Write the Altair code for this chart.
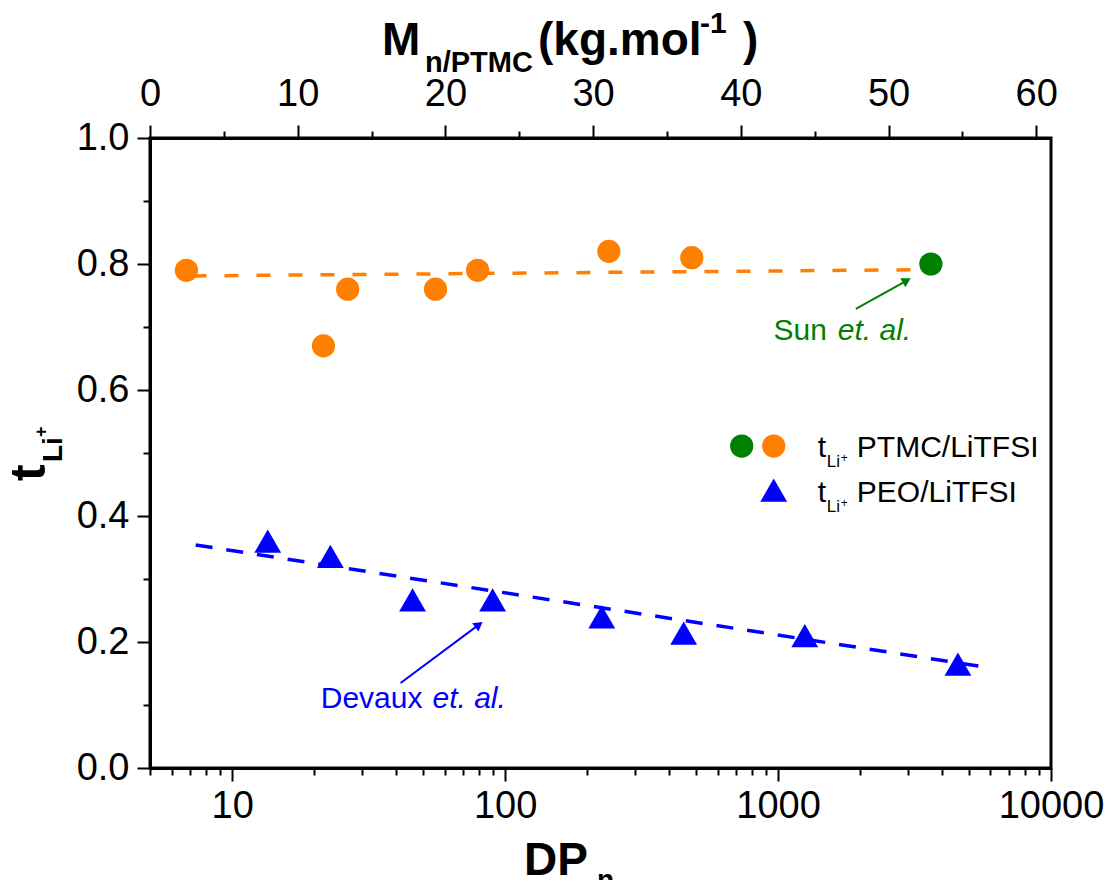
import altair as alt
import pandas as pd

FONT = "Liberation Sans"
ORANGE = "#FF8000"
GREEN = "#008000"
BLUE = "#0000FF"

# ---------------- data ----------------
ptmc_dp = [6.8, 21.6, 26.5, 55.6, 79.3, 240, 483]
ptmc_t = [0.79, 0.67, 0.76, 0.76, 0.79, 0.82, 0.81]
sun_dp = [3630]
sun_t = [0.80]
peo_dp = [13.5, 22.9, 45.8, 90, 226, 451, 1253, 4560]
peo_t = [0.36, 0.336, 0.267, 0.267, 0.24, 0.214, 0.21, 0.165]
fit_ptmc_dp = [6.8, 3450]
fit_ptmc_t = [0.781, 0.791]
fit_peo_dp = [7.35, 5970]
fit_peo_t = [0.354, 0.159]

dp_ticks = [5, 6, 7, 8, 9] + [m * 10 ** e for e in (1, 2, 3) for m in range(1, 10)] + [10000]
dp_labels = [10, 100, 1000, 10000]
t_ticks = [round(i * 0.1, 1) for i in range(11)]
m_ticks = list(range(0, 61, 5))

# annotation anchors (data coordinates)
sun_note = {"dp": 1509, "t": 0.679}
sun_arrow = {"dp": 1928, "t": 0.7286, "dp2": 2962, "t2": 0.7737}
dev_note = {"dp": 49.8, "t": 0.0952}
dev_arrow = {"dp": 41.4, "t": 0.135, "dp2": 80.2, "t2": 0.2276}
leg_green = {"dp": 736, "t": 0.511}
leg_orange = {"dp": 964, "t": 0.511}
leg_tri = {"dp": 964, "t": 0.441}
leg_text1 = {"dp": 1399, "t": 0.4937}
leg_text2 = {"dp": 1399, "t": 0.4222}

# ---------------- scales / axes ----------------
major_test = " || ".join(f"datum.value == {v}" for v in dp_labels)
x_scale = alt.Scale(type="log", domain=[5, 10000], nice=False)
x_axis = alt.Axis(
    orient="bottom", values=dp_ticks, title=None, grid=False,
    labelExpr=f"({major_test}) ? format(datum.value, 'd') : ''",
    tickSize={"condition": {"test": major_test, "value": 13}, "value": 7},
    labelPadding=6, labelFlush=False, labelOverlap=False,
)
y_test = "abs(datum.value * 5 - round(datum.value * 5)) < 0.001"
y_scale = alt.Scale(domain=[0, 1], nice=False, zero=False)
y_axis = alt.Axis(
    orient="left", values=t_ticks, title=None, grid=False,
    labelExpr=f"({y_test}) ? format(datum.value, '.1f') : ''",
    tickSize={"condition": {"test": y_test, "value": 13}, "value": 7},
    labelPadding=8, labelFlush=False, labelOverlap=False,
)


def X(field="dp"):
    return alt.X(f"{field}:Q", scale=x_scale, axis=x_axis)


def Y(field="t"):
    return alt.Y(f"{field}:Q", scale=y_scale, axis=y_axis)


def dtext(text, anchor, size, color="black", dx=0, dy=0, italic=False, bold=False, align="left"):
    return alt.Chart(pd.DataFrame([anchor])).mark_text(
        text=text, font=FONT, fontSize=size, color=color, dx=dx, dy=dy,
        fontStyle="italic" if italic else "normal",
        fontWeight="bold" if bold else "normal",
        align=align, baseline="alphabetic",
    ).encode(x=X(), y=Y())


def ptext(text, x, y, size, bold=True, angle=0):
    return alt.Chart(alt.Data(values=[{}])).mark_text(
        text=text, font=FONT, fontSize=size, color="black",
        fontWeight="bold" if bold else "normal",
        align="left", baseline="alphabetic", angle=angle,
    ).encode(x=alt.value(x), y=alt.value(y))


CIRCLE = 540
TRI = 720

# ---------------- marks ----------------
ptmc = alt.Chart(pd.DataFrame({"dp": ptmc_dp, "t": ptmc_t})).mark_circle(
    size=CIRCLE, color=ORANGE, opacity=1).encode(x=X(), y=Y())
sun = alt.Chart(pd.DataFrame({"dp": sun_dp, "t": sun_t})).mark_circle(
    size=CIRCLE, color=GREEN, opacity=1).encode(x=X(), y=Y())
peo = alt.Chart(pd.DataFrame({"dp": peo_dp, "t": peo_t})).mark_point(
    shape="triangle-up", filled=True, size=TRI, color=BLUE, opacity=1).encode(x=X(), y=Y())

fit_ptmc = alt.Chart(pd.DataFrame({"dp": fit_ptmc_dp, "t": fit_ptmc_t})).mark_line(
    color=ORANGE, strokeWidth=3.5, strokeDash=[14, 18], strokeDashOffset=26).encode(x=X(), y=Y())
fit_peo = alt.Chart(pd.DataFrame({"dp": fit_peo_dp, "t": fit_peo_t})).mark_line(
    color=BLUE, strokeWidth=3.5, strokeDash=[17, 14]).encode(x=X(), y=Y())


def arrow(a, color, angle):
    line = alt.Chart(pd.DataFrame([a])).mark_rule(color=color, strokeWidth=2).encode(
        x=X(), y=Y(), x2="dp2:Q", y2="t2:Q")
    head = alt.Chart(pd.DataFrame([{"dp": a["dp2"], "t": a["t2"]}])).mark_point(
        shape="triangle-up", filled=True, size=110, color=color, opacity=1, angle=angle).encode(x=X(), y=Y())
    return [line, head]


annotations = (
    arrow(sun_arrow, GREEN, 61)
    + arrow(dev_arrow, BLUE, 53)
    + [
        dtext("Sun", sun_note, 30, GREEN, align="right"),
        dtext("et. al.", sun_note, 30, GREEN, dx=11, italic=True),
        dtext("Devaux", dev_note, 30, BLUE, align="right"),
        dtext("et. al.", dev_note, 30, BLUE, dx=10, italic=True),
    ]
)

legend = [
    alt.Chart(pd.DataFrame([leg_green])).mark_circle(size=CIRCLE, color=GREEN, opacity=1).encode(x=X(), y=Y()),
    alt.Chart(pd.DataFrame([leg_orange])).mark_circle(size=CIRCLE, color=ORANGE, opacity=1).encode(x=X(), y=Y()),
    alt.Chart(pd.DataFrame([leg_tri])).mark_point(shape="triangle-up", filled=True, size=TRI,
                                                  color=BLUE, opacity=1).encode(x=X(), y=Y()),
]
for anc, label in ((leg_text1, "PTMC/LiTFSI"), (leg_text2, "PEO/LiTFSI")):
    legend += [
        dtext("t", anc, 30),
        dtext("Li", anc, 17, dx=9, dy=10),
        dtext("+", anc, 12, dx=23, dy=5),
        dtext(label, anc, 30, dx=39),
    ]

titles = [
    ptext("DP", 374, 737, 46),
    ptext("n", 447, 751, 28),
    ptext("M", 232, -83, 46),
    ptext("n/PTMC", 275, -66, 29),
    ptext("(kg.mol", 388, -83, 46),
    ptext("-1", 550, -105, 30),
    ptext(")", 593, -83, 46),
    ptext("t", -105, 343, 50, angle=270),
    ptext("Li", -88, 324, 28, angle=270),
    ptext("+", -103, 299, 18, angle=270),
]

inner = alt.layer(ptmc, sun, peo, fit_ptmc, fit_peo, *annotations, *legend)

top = alt.Chart(pd.DataFrame({"m": m_ticks})).mark_tick(opacity=0).encode(
    x=alt.X("m:Q", scale=alt.Scale(domain=[0, 61], nice=False, zero=False),
            axis=alt.Axis(orient="top", values=m_ticks, title=None, grid=False,
                          labelExpr="datum.value % 10 == 0 ? datum.label : ''",
                          tickSize={"condition": {"test": "datum.value % 10 == 0", "value": 13}, "value": 7},
                          labelPadding=12, labelFlush=False, labelOverlap=False))
)

chart = alt.layer(inner, top, *titles).resolve_scale(x="independent").properties(
    width=901, height=630,
    padding={"left": 142, "top": 130, "right": 55, "bottom": 112},
    autosize=alt.AutoSizeParams(type="none"),
    background="white",
).configure_view(stroke="black", strokeWidth=3).configure_axis(
    domainColor="black", domainWidth=3, tickColor="black", tickWidth=2,
    labelFont=FONT, labelFontSize=38, labelColor="black",
)

chart.save("out.html", embed_options={"renderer": "svg", "actions": False})
